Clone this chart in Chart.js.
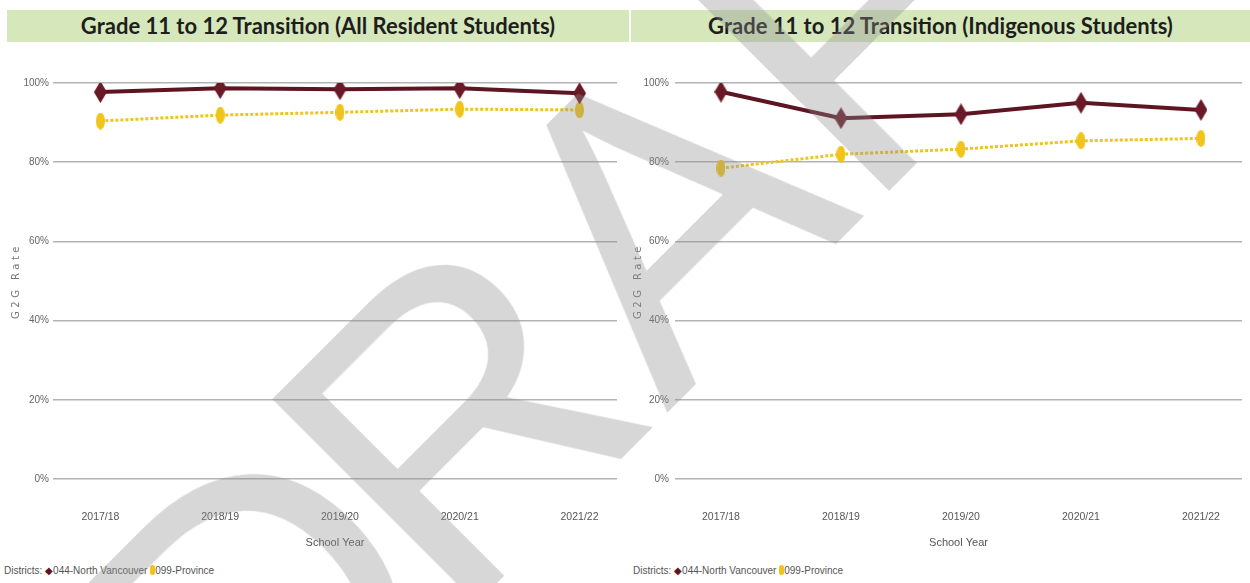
<!DOCTYPE html>
<html>
<head>
<meta charset="utf-8">
<script src="https://cdn.jsdelivr.net/npm/chart.js@4.4.1/dist/chart.umd.min.js"></script>
<style>
  body { margin:0; width:1250px; height:583px; background:#fff; position:relative; overflow:hidden;
         font-family:'Liberation Sans',Arial,sans-serif; }
  .bar { position:absolute; top:10px; height:32px; background:#d6e8bb; color:#1e1e1e;
         font:bold 22px Lato,'Liberation Sans',sans-serif; text-align:center; line-height:32px; }
  .box { position:absolute; top:50px; width:625px; height:510px; }
  .legend { position:absolute; top:565px; font-size:10px; color:#555; white-space:nowrap; }
  .legend .d { color:#5e1522; }
  .legend .p { display:inline-block; width:5px; height:10px; border-radius:3px; background:#f0c419; vertical-align:-1px; }
  .wm { position:absolute; left:639px; top:236px; transform:translate(-50%,-50%) rotate(-45deg);
        font:420px 'Liberation Sans',Arial,sans-serif; line-height:1; color:rgb(140,140,140); opacity:0.35;
        white-space:nowrap; pointer-events:none; z-index:5; }
</style>
</head>
<body>
<div class="bar" style="left:7px;width:622px">Grade 11 to 12 Transition (All Resident Students)</div>
<div class="bar" style="left:631px;width:619px">Grade 11 to 12 Transition (Indigenous Students)</div>
<div class="box" style="left:0"><canvas id="allChart"></canvas></div>
<div class="box" style="left:625px"><canvas id="indChart"></canvas></div>
<div class="legend" style="left:4px">Districts: <span class="d">&#9670;</span>044-North Vancouver <span class="p"></span>099-Province</div>
<div class="legend" style="left:633px">Districts: <span class="d">&#9670;</span>044-North Vancouver <span class="p"></span>099-Province</div>
<div class="wm"><span style="letter-spacing:-25px">D</span>RAFT</div>
<script>
// valores
const years = ['2017/18', '2018/19', '2019/20', '2020/21', '2021/22'];
const allNV = [97.7, 98.7, 98.4, 98.7, 97.4];
const allProv = [90.4, 91.9, 92.6, 93.4, 93.2];
const indNV = [97.8, 91.1, 92.1, 95.0, 93.2];
const indProv = [78.5, 82.0, 83.3, 85.4, 86.0];
const yTicks = [0, 20, 40, 60, 80, 100];

const TICKFONT = "'Liberation Sans',Arial,sans-serif";
const MAROON = '#5e1522';
const GOLD = '#f0c419';

// marcadores: losango alongado e oval
const diamond = (w, h, color) => {
    const c = document.createElement('canvas');
    c.width = w; c.height = h;
    const g = c.getContext('2d');
    g.fillStyle = color;
    g.beginPath();
    g.moveTo(w / 2, 0); g.lineTo(w, h / 2); g.lineTo(w / 2, h); g.lineTo(0, h / 2);
    g.closePath(); g.fill();
    return c;
};
const oval = (w, h, color) => {
    const c = document.createElement('canvas');
    c.width = w; c.height = h;
    const g = c.getContext('2d');
    g.fillStyle = color;
    g.beginPath();
    g.ellipse(w / 2, h / 2, w / 2, h / 2, 0, 0, Math.PI * 2);
    g.fill();
    return c;
};
const nvMark = diamond(13, 22, '#6a1a27');
const provMark = oval(9, 17, GOLD);

const toXY = arr => arr.map((v, i) => ({ x: i, y: v }));

// título do eixo Y com letras espaçadas
const spacedTitle = {
    id: 'spacedTitle',
    afterLayout(chart) {
        const s = chart.scales.y;
        if (s._spaced) return;
        const orig = s.drawTitle;
        s.drawTitle = function () {
            this.ctx.save();
            this.ctx.letterSpacing = '3.5px';
            orig.call(this);
            this.ctx.restore();
        };
        s._spaced = true;
    }
};

const makeChart = (id, nv, prov, xmin, xmax, areaLeft, tickPad, titlePad) => {
    const ctx = document.getElementById(id).getContext('2d');
    return new Chart(ctx, {
        type: 'line',
        data: {
            datasets: [{
                label: '044-North Vancouver',
                data: toXY(nv),
                borderColor: MAROON,
                borderWidth: 4,
                pointStyle: nvMark,
                tension: 0
            }, {
                label: '099-Province',
                data: toXY(prov),
                borderColor: GOLD,
                borderWidth: 3,
                borderDash: [3, 2],
                pointStyle: provMark,
                tension: 0
            }]
        },
        options: {
            responsive: true,
            maintainAspectRatio: false,
            animation: false,
            layout: { padding: { top: 33, right: 1, bottom: 0, left: 0 } },
            plugins: { legend: { display: false }, tooltip: { enabled: false } },
            scales: {
                x: {
                    type: 'linear',
                    min: xmin,
                    max: xmax,
                    afterBuildTicks: s => { s.ticks = years.map((_, i) => ({ value: i })); },
                    ticks: { callback: v => years[v], color: '#555', font: { family: TICKFONT, size: 10.5 }, padding: 32, autoSkip: false, maxRotation: 0 },
                    grid: { display: false, drawTicks: false },
                    border: { display: false },
                    title: { display: true, text: 'School Year', color: '#555', font: { family: TICKFONT, size: 11 }, padding: { top: 0, bottom: 10 } },
                    afterFit: s => { s.height = 81; s.paddingLeft = 0; s.paddingRight = 0; }
                },
                y: {
                    min: 0,
                    max: 100,
                    afterBuildTicks: s => { s.ticks = yTicks.map(v => ({ value: v })); },
                    ticks: { callback: v => v + '%', color: '#666', font: { family: TICKFONT, size: 10 }, padding: tickPad },
                    grid: { color: '#b3b3b3', lineWidth: 1.5, drawTicks: false },
                    border: { display: false },
                    title: { display: true, text: 'G2G Rate', color: '#777', font: { family: 'DejaVu Sans', size: 10 }, padding: { top: titlePad, bottom: 0 } },
                    afterFit: s => { s.width = areaLeft; }
                }
            }
        },
        plugins: [spacedTitle]
    });
};

makeChart('allChart', allNV, allProv, -0.396, 4.313, 53, 4, 10);
makeChart('indChart', indNV, indProv, -0.383, 4.342, 50, 6, 7);
</script>
</body>
</html>
